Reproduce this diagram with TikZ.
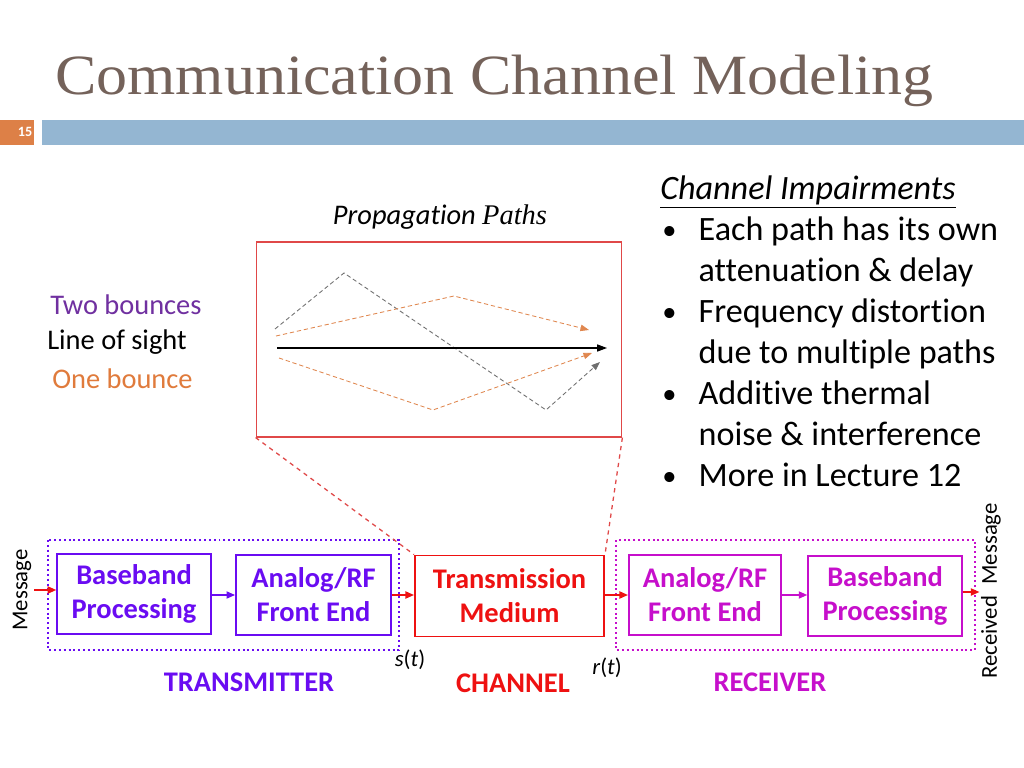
\documentclass[tikz,border=0pt]{standalone}
\usepackage{fontspec}
\setmainfont{Carlito}[Ligatures=NoCommon]
\newfontfamily\titlefont{Liberation Serif}
\usetikzlibrary{positioning,arrows.meta,calc}
\definecolor{titlebrown}{HTML}{74625A}
\definecolor{barblue}{HTML}{94B6D2}
\definecolor{numorange}{HTML}{DD8047}
\definecolor{txviolet}{HTML}{6A0CF2}
\definecolor{rxmagenta}{HTML}{C60FCB}
\definecolor{chred}{HTML}{EE1111}
\definecolor{boxred}{HTML}{E04848}
\definecolor{pathgray}{HTML}{6E6E6E}
\definecolor{pathorange}{HTML}{E0874F}
\definecolor{labelpurple}{HTML}{7030A0}
\definecolor{labelorange}{HTML}{E07B3C}
\newcommand{\fsz}[2]{\fontsize{#1}{#2}\selectfont}
\newcommand{\impdot}{\hspace*{1.5pt}\makebox[25.5pt][l]{\raisebox{1pt}{\fsz{20}{24}\textbullet}}}
\newcommand{\impgap}{\hspace*{27pt}}

\begin{document}
\begin{tikzpicture}[
  x=0.703125pt, y=-0.703125pt,
  >={Triangle[length=6pt,width=5pt]},
  blockbox/.style={draw, line width=1.3pt, align=center, font=\bfseries\fsz{20}{24},
    inner sep=0pt, minimum height=56pt},
  groupbox/.style={line width=1.4pt, dotted},
  sigarrow/.style={->, line width=1.1pt},
  pathline/.style={line width=0.6pt, dash pattern=on 3pt off 2pt,
    -{Triangle[length=6pt,width=4.5pt]}},
  sidelabel/.style={anchor=west, inner sep=0pt, font=\fsz{20}{24}},
  caption/.style={font=\bfseries\fsz{20}{24}}
]
  \fill[white] (0,0) rectangle (1024,768);
  \useasboundingbox (0,0) rectangle (1024,768);

  % title and bar
  \node[anchor=base west, inner sep=0pt, xscale=1.09, font=\titlefont\fsz{40}{48},
    text=titlebrown] (title) at (55,95) {Communication Channel Modeling};
  \fill[numorange] (0,120) rectangle (34,145);
  \fill[barblue] (42,120) rectangle (1024,145);
  \node[text=white, font=\bfseries\fsz{10}{12}] (slnum) at (25,132) {15};

  % propagation paths
  \node[font=\fsz{20}{24}] (proptitle) at (440,217)
    {\textit{Propagation} {\titlefont\itshape Paths}};
  \node[draw=boxred, line width=0.9pt, minimum width=257pt, minimum height=137pt,
    inner sep=0pt] (propbox) at (439,339.5) {};
  \draw[pathline, pathgray] (275,329) -- (344,273) -- (546,410) -- (600,362);
  \draw[pathline, pathorange] (276,336) -- (454,296) -- (589,330);
  \draw[pathline, pathorange] (279,358) -- (433,410) -- (592,353);
  \draw[line width=0.8pt, -{Triangle[length=7pt,width=5pt]}] (277,348) -- (607,348);

  \node[sidelabel, text=labelpurple] (twob) at (50,305) {Two bounces};
  \node[sidelabel] (los) at (47,342) {Line of sight};
  \node[sidelabel, text=labelorange] (oneb) at (52,379) {One bounce};

  % impairments
  \node[anchor=north west, inner sep=0pt, align=left, font=\fsz{24}{28.8}]
    (impair) at (660,176) {\underline{\textit{Channel Impairments}}\\
    \impdot Each path has its own\\
    \impgap attenuation \& delay\\
    \impdot Frequency distortion\\
    \impgap due to multiple paths\\
    \impdot Additive thermal\\
    \impgap noise \& interference\\
    \impdot More in Lecture 12};

  % block chain
  \draw[groupbox, txviolet] (48,540) rectangle (399,650);
  \draw[groupbox, rxmagenta] (616,540) rectangle (975,650);

  \node[blockbox, txviolet, minimum width=108pt] (bbtx) at (134,594)
    {Baseband\\Processing};
  \node[blockbox, txviolet, minimum width=109pt] (aftx) at (313.5,595)
    {Analog/RF\\Front End};
  \node[blockbox, chred, minimum width=133pt, minimum height=57pt] (tm) at (509.5,596)
    {Transmission\\Medium};
  \node[blockbox, rxmagenta, minimum width=107pt] (afrx) at (705,595)
    {Analog/RF\\Front End};
  \node[blockbox, rxmagenta, minimum width=108pt] (bbrx) at (885,596)
    {Baseband\\Processing};

  \node[rotate=90, inner sep=2pt, font=\fsz{16}{19}] (msg) at (22,590) {Message};
  \node[rotate=90, inner sep=1pt, font=\fsz{16}{19}] (rcvmsg) at (991,591)
    {Received\enspace Message};

  \draw[sigarrow, chred] (msg.south) -- (msg.south -| bbtx.west);
  \draw[sigarrow, txviolet] (bbtx.east |- aftx.west) -- (aftx.west);
  \draw[sigarrow, chred] (aftx.east) -- (aftx.east -| tm.west);
  \draw[sigarrow, chred] (tm.east |- afrx.west) -- (afrx.west);
  \draw[sigarrow, rxmagenta] (afrx.east) -- (afrx.east -| bbrx.west);
  \draw[sigarrow, chred] (bbrx.east |- 0,592) -- (rcvmsg.north |- 0,592);

  \draw[boxred, line width=0.9pt, dashed] (propbox.south west) -- (tm.north west);
  \draw[boxred, line width=0.9pt, dashed] (propbox.south east) -- (tm.north east);

  \node[font=\fsz{16}{19}] (st) at (410,660) {\textit{s}(\textit{t})};
  \node[font=\fsz{16}{19}] (rt) at (607,668) {\textit{r}(\textit{t})};

  \node[caption, text=txviolet] (txcap) at (249,682) {TRANSMITTER};
  \node[caption, text=chred] (chcap) at (513,683) {CHANNEL};
  \node[caption, text=rxmagenta] (rxcap) at (770,682) {RECEIVER};
\end{tikzpicture}
\end{document}
